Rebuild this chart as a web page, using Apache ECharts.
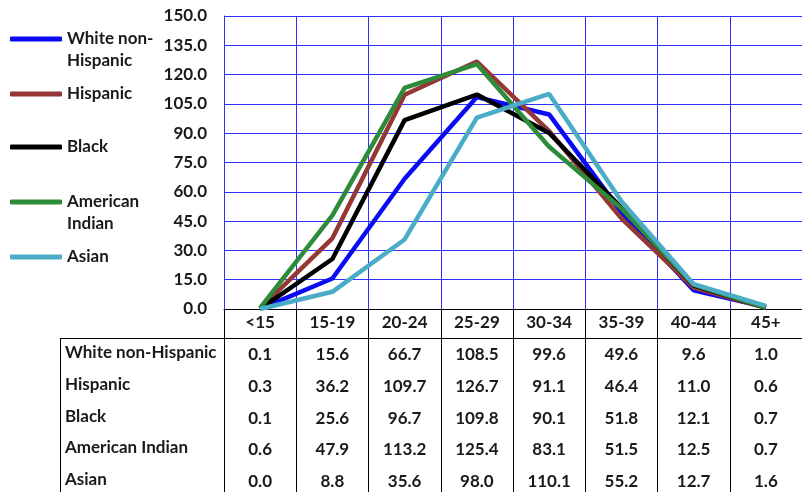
<!DOCTYPE html>
<html><head><meta charset="utf-8">
<script src="https://cdn.jsdelivr.net/npm/echarts@6/dist/echarts.min.js"></script>
<style>html,body{margin:0;padding:0;background:#fff}#c{width:802px;height:492px}</style>
</head><body><div id="c"></div>
<script>
const categories = ['<15','15-19','20-24','25-29','30-34','35-39','40-44','45+'];
const seriesNames = ['White non-Hispanic','Hispanic','Black','American Indian','Asian'];
const whiteNonHispanic = [0.1,15.6,66.7,108.5,99.6,49.6,9.6,1.0];
const hispanic = [0.3,36.2,109.7,126.7,91.1,46.4,11.0,0.6];
const black = [0.1,25.6,96.7,109.8,90.1,51.8,12.1,0.7];
const americanIndian = [0.6,47.9,113.2,125.4,83.1,51.5,12.5,0.7];
const asian = [0.0,8.8,35.6,98.0,110.1,55.2,12.7,1.6];
const yTicks = [0,15,30,45,60,75,90,105,120,135,150];

const rows = [whiteNonHispanic, hispanic, black, americanIndian, asian];
const colors = ['#0a0af5','#953735','#000000','#2e8b3a','#4aacc6'];
const legendLabels = ['\u00a0\nWhite non-\nHispanic','Hispanic','Black','\u00a0\nAmerican\nIndian','Asian'];
const legendTops = [6,83,136,169,246];
const rowOffsets = [46,78,110,141,173];
const FONT = 'Lato';
const TXT = '#1a1a1a';
const GRIDC = '#3030ff';

const chart = echarts.init(document.getElementById('c'), null, {renderer:'canvas'});

const legends = seriesNames.map((n,i)=>({
  data:[n], left:10, top:legendTops[i], orient:'vertical', padding:0,
  icon:'roundRect', itemWidth:52, itemHeight:5,
  formatter:()=>legendLabels[i],
  selectedMode:false,
  textStyle:{fontFamily:FONT, fontWeight:'bold', fontSize:17, color:TXT, lineHeight:22}
}));

const xAxes = [{
  type:'category', data:categories, gridIndex:0, position:'bottom',
  boundaryGap:true,
  axisLine:{show:true, lineStyle:{color:'#000', width:1}},
  axisTick:{show:true, length:190, lineStyle:{color:'#000', width:1}, alignWithLabel:false},
  axisLabel:{show:true, interval:0, margin:14, verticalAlign:'middle', fontFamily:FONT, fontWeight:'bold', fontSize:17, color:TXT},
  splitLine:{show:true, interval:0, lineStyle:{color:GRIDC, width:1}}
}];
rows.forEach((r,k)=>{
  xAxes.push({
    type:'category', data:categories, gridIndex:0, position:'bottom', offset:rowOffsets[k],
    axisLine:{show:false}, axisTick:{show:false}, splitLine:{show:false},
    axisLabel:{show:true, interval:0, margin:0, verticalAlign:'middle', fontFamily:FONT, fontWeight:'bold', fontSize:17, color:TXT,
      formatter:(v,idx)=>r[idx].toFixed(1)}
  });
});

const graphics = [
  {type:'line', shape:{x1:60,y1:338.5,x2:802,y2:338.5}, style:{stroke:'#000', lineWidth:1}},
  {type:'line', shape:{x1:60.5,y1:338,x2:60.5,y2:492}, style:{stroke:'#000', lineWidth:1}}
];
seriesNames.forEach((n,k)=>{
  graphics.push({type:'text', left:65, top:309+rowOffsets[k]-11,
    style:{text:n, font:'bold 17px '+FONT, fill:TXT}});
});

chart.setOption({
  animation:false,
  color:colors,
  legend:legends,
  grid:{left:224, right:-9, top:16, bottom:183, containLabel:false},
  xAxis:xAxes,
  yAxis:{
    type:'value', min:yTicks[0], max:yTicks[yTicks.length-1], interval:15,
    axisLine:{show:true, lineStyle:{color:GRIDC, width:1}},
    axisTick:{show:false},
    axisLabel:{margin:17, formatter:v=>v.toFixed(1), fontFamily:FONT, fontWeight:'bold', fontSize:17, color:TXT},
    splitLine:{show:true, lineStyle:{color:GRIDC, width:1}}
  },
  graphic:graphics,
  series: rows.map((r,i)=>({
    name:seriesNames[i], type:'line', data:r, xAxisIndex:0, yAxisIndex:0,
    showSymbol:false, symbol:'none', lineStyle:{width:4.5, color:colors[i]},
    itemStyle:{color:colors[i]}
  }))
});
</script></body></html>
